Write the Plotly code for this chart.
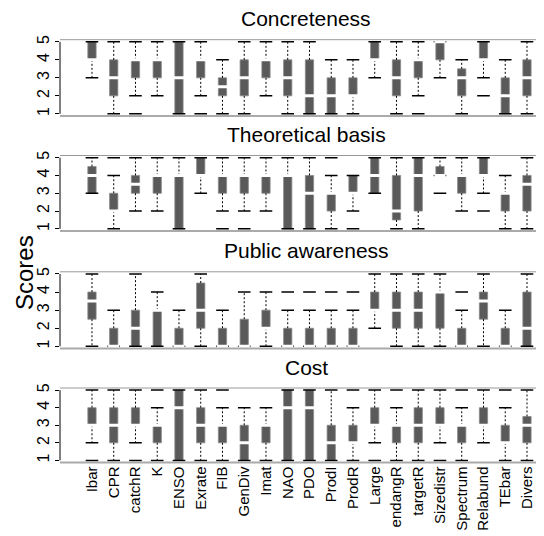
import plotly.graph_objects as go

cats = ["Ibar","CPR","catchR","K","ENSO","Exrate","FIB","GenDiv","Imat","NAO","PDO",
        "ProdI","ProdR","Large","endangR","targetR","Sizedistr","Spectrum","Relabund","TEbar","Divers"]

titles = ["Concreteness", "Theoretical basis", "Public awareness", "Cost"]

# each panel: lower whisker, q1, median, q3, upper whisker, outliers
conc_lo  = [3,1,2,2,1,2,1,1,2,1,1,1,1,3,1,2,3,1,3,1,1]
conc_q1  = [4,2,3,3,1,3,2,2,3,2,1,1,2,4,2,3,4,2,4,1,2]
conc_med = [4,3,4,4,3,4,2.5,3,4,3,2,2,2,4,3,4,5,3,4,2,3]
conc_q3  = [5,4,4,4,5,4,3,4,4,4,4,3,3,5,4,4,5,3.5,5,3,4]
conc_hi  = [5,5,5,5,5,5,4,5,5,5,5,4,4,5,5,5,5,4,5,4,5]
conc_out = [[],[],[1],[],[],[1],[],[],[],[],[],[],[],[],[],[1],[],[],[2],[],[]]

theo_lo  = [3,1,2,2,1,3,2,2,2,1,1,1,2,3,1,1,4,2,3,1,1]
theo_q1  = [3,2,3,3,1,4,3,3,3,1,1,2,3,3,1.5,2,4,3,4,2,2]
theo_med = [4,2,3.5,4,4,4,4,4,4,4,3,3,3,4,2,4,4,4,4,3,3.5]
theo_q3  = [4.5,3,4,4,4,5,4,4,4,4,4,3,4,5,4,5,4.5,4,5,3,4]
theo_hi  = [5,4,5,5,5,5,5,5,5,5,5,4,4,5,5,5,5,5,5,4,5]
theo_out = [[],[5],[],[],[],[],[1],[1],[],[],[],[5],[1],[],[],[],[3],[],[2],[],[]]

pub_lo  = [1,1,1,1,1,1,1,1,1,1,1,1,1,2,1,1,1,1,1,1,1]
pub_q1  = [2.5,1,1,1,1,2,1,1,2,1,1,1,1,3,2,2,2,1,2.5,1,1]
pub_med = [3.5,1,2,3,1,3,1,1,2,1,1,1,1,3,3,3,4,1,3.5,1,2]
pub_q3  = [4,2,3,3,2,4.5,2,2.5,3,2,2,2,2,4,4,4,4,2,4,2,4]
pub_hi  = [5,3,5,4,3,5,3,4,4,3,3,3,3,5,5,5,5,3,5,3,5]
pub_out = [[],[],[],[],[],[],[],[],[],[4],[4],[4],[4],[],[],[],[],[4],[],[],[]]

cost_lo  = [2,1,2,1,1,1,1,1,1,1,1,1,1,2,1,1,2,1,2,1,1]
cost_q1  = [3,2,3,2,1,2,2,1,2,1,1,1,2,3,2,2,3,2,3,2,2]
cost_med = [3,3,3,3,4,3,3,2,3,4,4,2,2,3,3,3,3,3,3,2,3]
cost_q3  = [4,4,4,3,5,4,3,3,3,5,5,3,3,4,3,4,4,3,4,3,3.5]
cost_hi  = [5,5,5,4,5,5,4,4,4,5,5,5,4,5,4,5,5,4,5,4,5]
cost_out = [[1],[],[1],[5],[],[],[5],[],[],[],[],[],[5],[1],[5],[],[1],[5],[],[5],[]]

panels = [
    (conc_lo, conc_q1, conc_med, conc_q3, conc_hi, conc_out),
    (theo_lo, theo_q1, theo_med, theo_q3, theo_hi, theo_out),
    (pub_lo, pub_q1, pub_med, pub_q3, pub_hi, pub_out),
    (cost_lo, cost_q1, cost_med, cost_q3, cost_hi, cost_out),
]

W, H = 544, 536
# panel pixel extents (top, bottom)
pix = [(31.7, 108.0), (147.5, 223.0), (263.8, 340.5), (380.0, 454.5)]
x_left = 52 / W

FONT = "Arial, Liberation Sans, sans-serif"
BOX = "#5a5a5a"
xpos = list(range(len(cats)))

fig = go.Figure()
layout = dict(width=W, height=H, margin=dict(l=0, r=0, t=0, b=0),
              paper_bgcolor="white", plot_bgcolor="white", showlegend=False,
              barmode="overlay", font=dict(family=FONT, color="black"))
shapes = []
annotations = []

for i, (lo, q1, med, q3, hi, out) in enumerate(panels):
    n = i + 1
    xa = "x" if n == 1 else f"x{n}"
    ya = "y" if n == 1 else f"y{n}"
    top, bot = pix[i]
    dom = [1 - bot / H, 1 - top / H]

    # whiskers
    wx, wy = [], []
    for k in xpos:
        wx += [k, k, None, k, k, None]
        wy += [q3[k], hi[k], None, q1[k], lo[k], None]
    fig.add_trace(go.Scatter(x=wx, y=wy, mode="lines", xaxis=xa, yaxis=ya,
                             line=dict(color="black", width=1, dash="2px,2px"),
                             hoverinfo="skip"))
    # boxes
    fig.add_trace(go.Bar(x=xpos, y=[q3[k] - q1[k] for k in xpos], base=q1,
                         width=0.38, xaxis=xa, yaxis=ya,
                         marker=dict(color=BOX, line=dict(color="#8a8a8a", width=0.8))))
    # caps
    cx = xpos + xpos
    cy = list(lo) + list(hi)
    fig.add_trace(go.Scatter(x=cx, y=cy, mode="markers", xaxis=xa, yaxis=ya,
                             marker=dict(symbol="line-ew", size=9,
                                         line=dict(color="black", width=1.5))))
    # outliers
    ox, oy = [], []
    for k in xpos:
        for v in out[k]:
            ox.append(k)
            oy.append(v)
    fig.add_trace(go.Scatter(x=ox, y=oy, mode="markers", xaxis=xa, yaxis=ya,
                             marker=dict(symbol="line-ew", size=9,
                                         line=dict(color="black", width=1.5))))
    # medians
    fig.add_trace(go.Scatter(x=xpos, y=med, mode="markers", xaxis=xa, yaxis=ya,
                             marker=dict(symbol="line-ew", size=8,
                                         line=dict(color="white", width=3))))

    xkey = "xaxis" if n == 1 else f"xaxis{n}"
    ykey = "yaxis" if n == 1 else f"yaxis{n}"
    layout[xkey] = dict(domain=[x_left, 1], anchor=ya, range=[-1.47, 21.15],
                        showgrid=False, zeroline=False, showline=False,
                        tickvals=xpos, ticktext=cats, ticks="",
                        showticklabels=(n == 4), tickangle=-90,
                        tickfont=dict(size=15, family=FONT, color="black"),
                        automargin=False)
    layout[ykey] = dict(domain=dom, anchor=xa, range=[0.88, 5.12],
                        tickvals=[1, 2, 3, 4, 5], tickangle=-90,
                        ticks="outside", ticklen=4, tickcolor="black", tickwidth=1,
                        showgrid=False, zeroline=False, showline=False,
                        tickfont=dict(size=16, family=FONT, color="black"),
                        automargin=False)
    xd = f"{xa} domain"
    yd = f"{ya} domain"
    shapes.append(dict(type="line", xref=xd, yref=yd, x0=0, x1=1, y0=1, y1=1,
                       line=dict(color="#999999", width=1)))
    shapes.append(dict(type="line", xref=xd, yref=yd, x0=0, x1=1, y0=0, y1=0,
                       line=dict(color="#aaaaaa", width=2)))
    shapes.append(dict(type="line", xref=xd, yref=ya, x0=0, x1=0, y0=1, y1=5,
                       line=dict(color="black", width=1)))
    annotations.append(dict(text=titles[i], xref="paper", yref="paper",
                            x=(x_left + 1) / 2, y=1 - (top - 31.5) / H, yshift=3,
                            xanchor="center", yanchor="top", showarrow=False,
                            font=dict(size=21, family=FONT, color="black")))

annotations.append(dict(text="Scores", xref="paper", yref="paper",
                        x=16 / W, y=1 - 265 / H, textangle=-90,
                        xanchor="center", yanchor="middle", showarrow=False,
                        font=dict(size=24, family=FONT, color="black")))

layout["shapes"] = shapes
layout["annotations"] = annotations
fig.update_layout(**layout)
fig.write_html("out.html")
